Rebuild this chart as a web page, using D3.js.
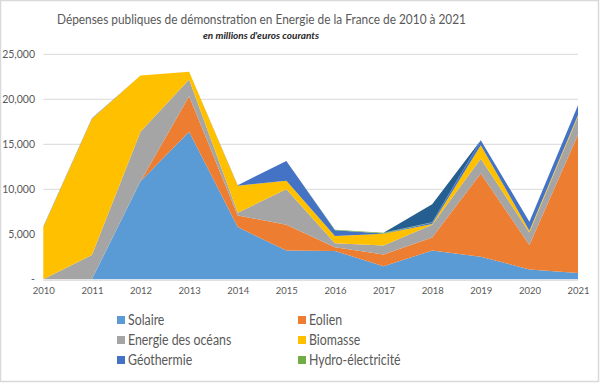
<!DOCTYPE html>
<html>
<head>
<meta charset="utf-8">
<script src="https://cdn.jsdelivr.net/npm/d3@7"></script>
<style>
  html, body { margin: 0; padding: 0; background: #fff; }
  svg { display: block; }
  text { font-family: Lato, "Open Sans", sans-serif; }
</style>
</head>
<body>
<svg id="chart" width="600" height="383"></svg>
<script>
const years = ["2010","2011","2012","2013","2014","2015","2016","2017","2018","2019","2020","2021"];
const solaire    = [0, 0, 10900, 16400, 5800, 3200, 3150, 1450, 3200, 2500, 1100, 700];
const eolien     = [0, 0, 0, 3950, 1300, 2850, 400, 1300, 1450, 9250, 2700, 15350];
const oceans     = [0, 2700, 5500, 1850, 300, 3950, 450, 1000, 1400, 1650, 1400, 2050];
const biomasse   = [5800, 15150, 6250, 850, 3000, 950, 800, 1300, 100, 1500, 200, 150];
const geothermie = [60, 40, 0, 0, 50, 2200, 650, 50, 150, 550, 1000, 1100];
const hydro      = [0, 0, 0, 0, 0, 0, 50, 80, 50, 0, 0, 0];
const autres     = [0, 0, 0, 0, 0, 0, 0, 0, 2000, 0, 0, 0];

const seriesNames = ["Solaire", "Eolien", "Energie des océans", "Biomasse", "Géothermie", "Hydro-électricité", "Autres"];
const seriesValues = [solaire, eolien, oceans, biomasse, geothermie, hydro, autres];
const colors = ["#5B9BD5", "#ED7D31", "#A5A5A5", "#FFC000", "#4472C4", "#70AD47", "#255E91"];
const legendNames = ["Solaire", "Eolien", "Energie des océans", "Biomasse", "Géothermie", "Hydro-électricité"];
const yTicks = [0, 5000, 10000, 15000, 20000, 25000];

const title = "Dépenses publiques de démonstration en Energie de la France de 2010 à 2021";
const subtitle = "en millions d'euros courants";

const table = years.map((yr, i) => {
  const row = { year: yr };
  seriesNames.forEach((n, k) => row[n] = seriesValues[k][i]);
  return row;
});

const svg = d3.select("#chart");
const W = 600, H = 383;

// frame
svg.append("rect").attr("x", 0.5).attr("y", 0.5).attr("width", W - 2).attr("height", H - 2)
  .attr("fill", "#fff").attr("stroke", "#d9d9d9").attr("stroke-width", 1.5);

const pLeft = 43.3, pRight = 578, pTop = 54.3, pBottom = 279.3;

const x = d3.scalePoint().domain(years).range([pLeft, pRight]);
const y = d3.scaleLinear().domain([0, 25000]).range([pBottom, pTop]);

// gridlines
svg.append("g").selectAll("line").data(yTicks.filter(d => d > 0)).join("line")
  .attr("x1", pLeft).attr("x2", pRight)
  .attr("y1", d => y(d)).attr("y2", d => y(d))
  .attr("stroke", "#d9d9d9").attr("stroke-width", 1);

const stack = d3.stack().keys(seriesNames);
const layers = stack(table);

const area = d3.area()
  .x(d => x(d.data.year))
  .y0(d => y(d[0]))
  .y1(d => y(d[1]));

svg.append("g").selectAll("path").data(layers).join("path")
  .attr("d", area)
  .attr("fill", (d, i) => colors[i]);

// x axis line
svg.append("line").attr("x1", pLeft).attr("x2", pRight).attr("y1", pBottom + 1).attr("y2", pBottom + 1)
  .attr("stroke", "#d9d9d9").attr("stroke-width", 1);

// y axis labels
const yAxis = d3.axisLeft(y).tickValues(yTicks).tickSize(0).tickPadding(0)
  .tickFormat(d => d === 0 ? "-" : d3.format(",")(d));
const gy = svg.append("g").attr("transform", `translate(${35},0)`).call(yAxis);
gy.select(".domain").remove();
gy.selectAll("text").attr("fill", "#595959").style("font-size", "10.5px").style("font-family", "Lato, sans-serif");

// x axis labels
const xAxis = d3.axisBottom(x).tickSize(0).tickPadding(0);
const gx = svg.append("g").attr("transform", `translate(0,${287})`).call(xAxis);
gx.select(".domain").remove();
gx.selectAll("text").attr("fill", "#595959").style("font-size", "9.5px").style("font-family", "Lato, sans-serif");

// title
svg.append("text").attr("x", 261.5).attr("y", 24).attr("text-anchor", "middle")
  .attr("fill", "#595959").style("font-size", "14px")
  .attr("textLength", 409).attr("lengthAdjust", "spacingAndGlyphs").text(title);
svg.append("text").attr("x", 261).attr("y", 39).attr("text-anchor", "middle")
  .attr("fill", "#262626").style("font-size", "10px").style("font-style", "italic").style("font-weight", "bold")
  .attr("textLength", 116).attr("lengthAdjust", "spacingAndGlyphs")
  .text(subtitle);

// legend
const legCols = [117, 298];
const legRows = [320, 340, 360];
const leg = svg.append("g").selectAll("g").data(legendNames).join("g")
  .attr("transform", (d, i) => `translate(${legCols[i % 2]},${legRows[Math.floor(i / 2)]})`);
leg.append("rect").attr("x", 0).attr("y", -4).attr("width", 8).attr("height", 8)
  .attr("fill", (d, i) => colors[seriesNames.indexOf(d)]);
leg.append("text").attr("x", 11).attr("y", 0).attr("dy", "0.35em")
  .attr("fill", "#595959").style("font-size", "14.5px").text(d => d)
  .each(function () {
    const w = this.getComputedTextLength();
    d3.select(this).attr("textLength", w * 0.85).attr("lengthAdjust", "spacingAndGlyphs");
  });
</script>
</body>
</html>
